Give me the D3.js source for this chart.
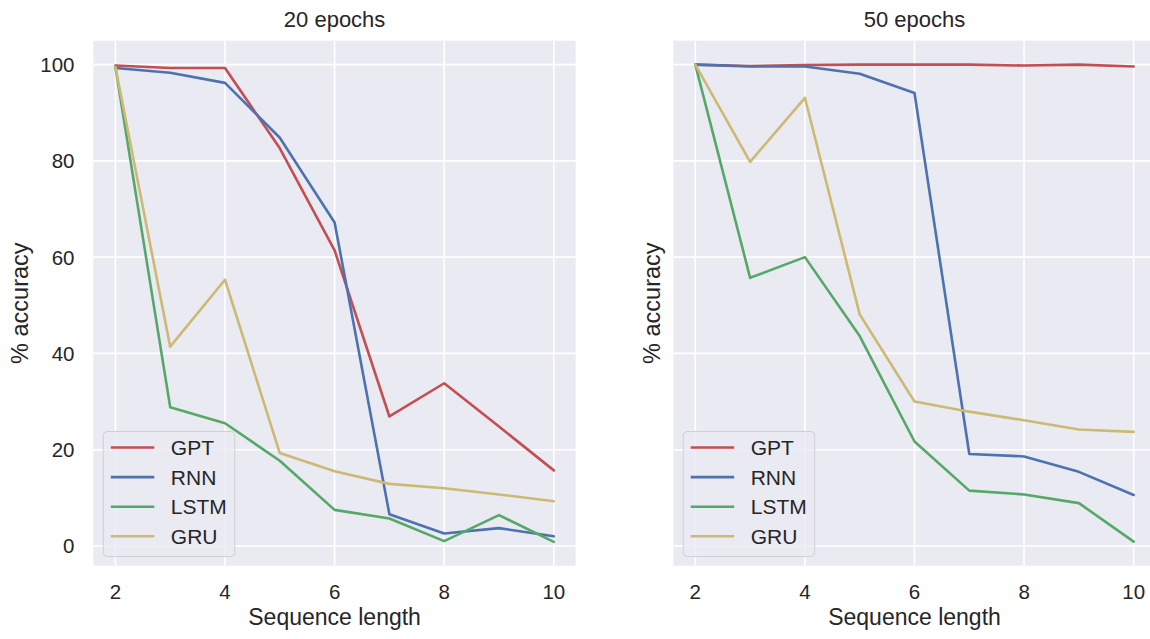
<!DOCTYPE html>
<html>
<head>
<meta charset="utf-8">
<script src="https://cdn.jsdelivr.net/npm/d3@7"></script>
<style>
  body { margin: 0; background: #fff; }
  text { font-family: "Liberation Sans", Arial, sans-serif; fill: #262626; }
</style>
</head>
<body>
<svg></svg>
<script>
// sequence lengths on the x axis
var seqLen = [2, 3, 4, 5, 6, 7, 8, 9, 10];
var models = ["GPT", "RNN", "LSTM", "GRU"];
var xTicks = [2, 4, 6, 8, 10];
var yTicks = [0, 20, 40, 60, 80, 100];

// 20 epochs
var gpt20  = [99.8, 99.3, 99.3, 82.6, 61.4, 26.9, 33.8, 24.8, 15.7];
var rnn20  = [99.3, 98.3, 96.2, 84.8, 67.2, 6.6, 2.6, 3.7, 2.0];
var lstm20 = [99.5, 28.8, 25.5, 17.7, 7.5, 5.7, 1.0, 6.4, 0.85];
var gru20  = [99.5, 41.4, 55.3, 19.3, 15.5, 12.9, 12.0, 10.7, 9.3];

// 50 epochs
var gpt50  = [100, 99.7, 99.9, 100, 100, 100, 99.8, 100, 99.6];
var rnn50  = [100, 99.6, 99.6, 98.1, 94.1, 19.1, 18.6, 15.4, 10.6];
var lstm50 = [100, 55.7, 60.0, 43.6, 21.7, 11.5, 10.7, 8.9, 0.9];
var gru50  = [100, 79.8, 93.1, 48.1, 30.0, 27.9, 26.1, 24.2, 23.7];

var colors = d3.scaleOrdinal()
               .domain(models)
               .range(["#C44E52", "#4C72B0", "#55A868", "#CCB974"]);

var width = 1150;
var height = 639;
var svg = d3.select("svg")
            .attr("width", width)
            .attr("height", height);

var panels = [
  { title: "20 epochs", left: 93.5, ticks: true, series: [gpt20, rnn20, lstm20, gru20], ylabX: 28 },
  { title: "50 epochs", left: 673.4, ticks: false, series: [gpt50, rnn50, lstm50, gru50], ylabX: 660 }
];

var plotTop = 40.7, plotBottom = 565.7, plotW = 482.2;

// shared y scale, matplotlib style 5% margins
var y = d3.scaleLinear()
          .domain([-4.1, 104.96])
          .range([plotBottom, plotTop]);

panels.forEach(function(p) {
  var x = d3.scaleLinear()
            .domain([1.6, 10.4])
            .range([p.left, p.left + plotW]);

  var g = svg.append("g");

  g.append("rect")
    .attr("x", p.left)
    .attr("y", plotTop)
    .attr("width", plotW)
    .attr("height", plotBottom - plotTop)
    .attr("fill", "#EAEAF2");

  // grid
  g.append("g")
    .selectAll("line")
    .data(xTicks)
    .enter()
    .append("line")
      .attr("x1", d => x(d))
      .attr("x2", d => x(d))
      .attr("y1", plotTop)
      .attr("y2", plotBottom)
      .attr("stroke", "#fff")
      .attr("stroke-width", 1.6);

  g.append("g")
    .selectAll("line")
    .data(yTicks)
    .enter()
    .append("line")
      .attr("x1", p.left)
      .attr("x2", p.left + plotW)
      .attr("y1", d => y(d))
      .attr("y2", d => y(d))
      .attr("stroke", "#fff")
      .attr("stroke-width", 1.6);

  // tick labels
  g.append("g")
    .selectAll("text")
    .data(xTicks)
    .enter()
    .append("text")
      .attr("x", d => x(d))
      .attr("y", 598.5)
      .attr("text-anchor", "middle")
      .attr("font-size", 20.5)
      .text(d => d);

  if (p.ticks) {
    g.append("g")
      .selectAll("text")
      .data(yTicks)
      .enter()
      .append("text")
        .attr("x", p.left - 19)
        .attr("y", d => y(d))
        .attr("dy", "0.36em")
        .attr("text-anchor", "end")
        .attr("font-size", 20.5)
        .text(d => d);
  }

  // labels and title
  g.append("text")
    .attr("x", p.left + plotW / 2)
    .attr("y", 27)
    .attr("text-anchor", "middle")
    .attr("font-size", 22)
    .text(p.title);

  g.append("text")
    .attr("x", p.left + plotW / 2)
    .attr("y", 624.5)
    .attr("text-anchor", "middle")
    .attr("font-size", 23)
    .text("Sequence length");

  g.append("text")
    .attr("transform", "translate(" + p.ylabX + "," + ((plotTop + plotBottom) / 2) + ") rotate(-90)")
    .attr("text-anchor", "middle")
    .attr("font-size", 23.5)
    .text("% accuracy");

  // lines
  var line = d3.line()
               .x((d, i) => x(seqLen[i]))
               .y(d => y(d));

  g.append("g")
    .selectAll("path")
    .data(p.series)
    .enter()
    .append("path")
      .attr("d", d => line(d))
      .attr("fill", "none")
      .attr("stroke", (d, i) => colors(models[i]))
      .attr("stroke-width", 2.6)
      .attr("stroke-linejoin", "round")
      .attr("stroke-linecap", "round");

  // legend, lower left
  var lg = g.append("g")
            .attr("transform", "translate(" + (p.left + 9.8) + ",431.5)");

  lg.append("rect")
    .attr("width", 131.5)
    .attr("height", 125)
    .attr("rx", 4)
    .attr("fill", "#EAEAF2")
    .attr("fill-opacity", 0.8)
    .attr("stroke", "#d0d0d0")
    .attr("stroke-width", 1);

  var item = lg.selectAll("g.item")
               .data(models)
               .enter()
               .append("g")
                 .classed("item", true)
                 .attr("transform", (d, i) => "translate(0," + (16 + i * 29.6) + ")");

  item.append("line")
    .attr("x1", 7.5)
    .attr("x2", 51)
    .attr("stroke", d => colors(d))
    .attr("stroke-width", 2.6);

  item.append("text")
    .attr("x", 67.5)
    .attr("dy", "0.36em")
    .attr("font-size", 21)
    .text(d => d);
});
</script>
</body>
</html>
